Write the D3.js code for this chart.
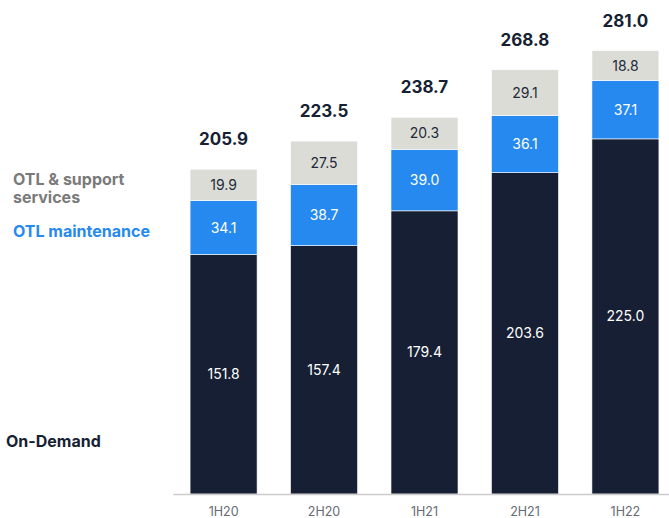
<!DOCTYPE html>
<html lang="en">
<head>
<meta charset="utf-8">
<script src="https://cdn.jsdelivr.net/npm/d3@7"></script>
<style>
  body { margin: 0; background: #fff; }
  svg { font-family: Inter, "Noto Sans", sans-serif; display: block; }
</style>
</head>
<body>
<div id="chart"></div>
<script>
  // data
  const periods = ["1H20", "2H20", "1H21", "2H21", "1H22"];
  const onDemand = [151.8, 157.4, 179.4, 203.6, 225.0];
  const otlMaintenance = [34.1, 38.7, 39.0, 36.1, 37.1];
  const otlSupport = [19.9, 27.5, 20.3, 29.1, 18.8];
  const totals = [205.9, 223.5, 238.7, 268.8, 281.0];
  const seriesNames = ["On-Demand", "OTL maintenance", "OTL & support services"];
  const seriesColors = ["#161f33", "#2589ef", "#dcdcd6"];
  const labelColors = ["#ffffff", "#ffffff", "#222a3a"];

  const width = 669, height = 518;
  const baseline = 494;

  const rows = periods.map((p, i) => ({
    period: p,
    "On-Demand": onDemand[i],
    "OTL maintenance": otlMaintenance[i],
    "OTL & support services": otlSupport[i],
    total: totals[i]
  }));

  const svg = d3.select("#chart")
    .append("svg")
    .attr("width", width)
    .attr("height", height);

  const x = d3.scaleBand()
    .domain(periods)
    .range([173, 676])
    .paddingInner(0.333)
    .paddingOuter(0.17);

  const y = d3.scaleLinear()
    .domain([0, 281])
    .range([baseline, 50.5]);

  const stack = d3.stack().keys(seriesNames)(rows);

  // bars
  const layers = svg.append("g")
    .selectAll("g")
    .data(stack)
    .join("g")
    .attr("fill", (d, i) => seriesColors[i]);

  layers.selectAll("rect")
    .data(d => d)
    .join("rect")
    .attr("x", d => x(d.data.period))
    .attr("y", d => y(d[1]))
    .attr("width", x.bandwidth())
    .attr("height", d => y(d[0]) - y(d[1]))
    .attr("stroke", "#ffffff")
    .attr("stroke-width", 0.6);

  // segment labels
  stack.forEach((layer, i) => {
    svg.append("g")
      .selectAll("text")
      .data(layer)
      .join("text")
      .attr("x", d => x(d.data.period) + x.bandwidth() / 2)
      .attr("y", d => (y(d[0]) + y(d[1])) / 2)
      .attr("dy", "0.36em")
      .attr("text-anchor", "middle")
      .attr("fill", labelColors[i])
      .style("font-size", "14px")
      .text(d => (d[1] - d[0]).toFixed(1));
  });

  // totals
  svg.append("g")
    .selectAll("text")
    .data(rows)
    .join("text")
    .attr("x", d => x(d.period) + x.bandwidth() / 2)
    .attr("y", d => y(d.total) - 24)
    .attr("text-anchor", "middle")
    .attr("fill", "#161f33")
    .style("font-size", "17px")
    .style("font-weight", "bold")
    .text(d => d.total.toFixed(1));

  // x axis
  const xAxis = svg.append("g")
    .attr("transform", `translate(0,${baseline})`)
    .call(d3.axisBottom(x).tickSize(0).tickPadding(13));
  xAxis.select(".domain").attr("stroke", "#cccccc").attr("stroke-width", 1.5);
  xAxis.selectAll("text")
    .attr("fill", "#666a73")
    .style("font-size", "12.5px")
    .style("font-family", "Inter, sans-serif");

  // legend labels on the left
  const legend = svg.append("g").style("font-size", "16px").style("font-weight", "bold");
  legend.append("text").attr("x", 13).attr("y", 185).attr("fill", "#7a7a7a").text("OTL & support");
  legend.append("text").attr("x", 13).attr("y", 203).attr("fill", "#7a7a7a").text("services");
  legend.append("text").attr("x", 13).attr("y", 237).attr("fill", "#2589ef").text("OTL maintenance");
  legend.append("text").attr("x", 6).attr("y", 447).attr("fill", "#161f33").text("On-Demand");
</script>
</body>
</html>
